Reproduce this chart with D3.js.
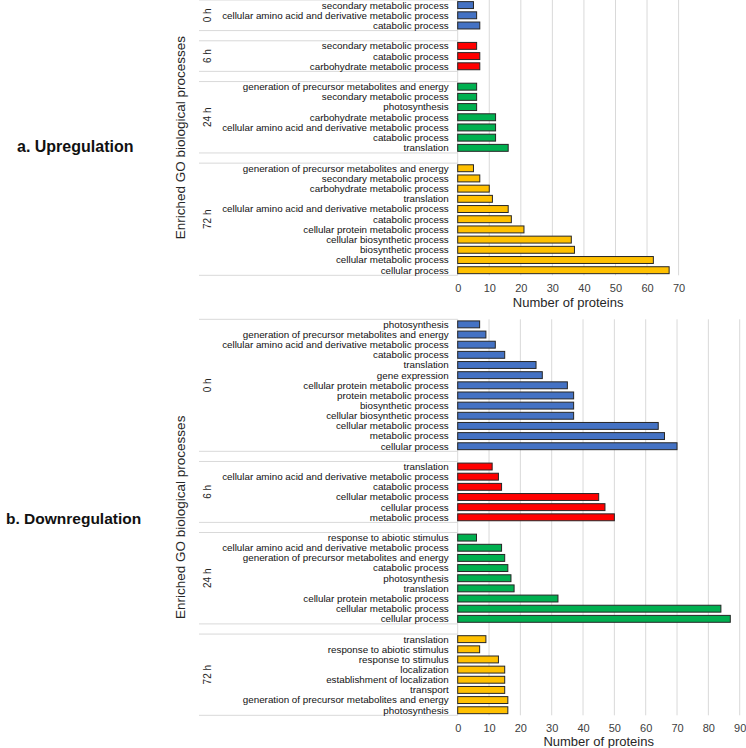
<!DOCTYPE html>
<html><head><meta charset="utf-8">
<script src="https://cdn.jsdelivr.net/npm/d3@7/dist/d3.min.js"></script>
<style>
body{margin:0;background:#fff;}
svg{display:block;font-family:"Liberation Sans",Arial,sans-serif;}
</style></head>
<body><svg id="c" width="746" height="748"></svg>
<script>
// ---------- DATA ----------
const groupNames = ["0 h", "6 h", "24 h", "72 h"];
const groupColors = ["#4472C4", "#FF0000", "#00B050", "#FFC000"];

// a. Upregulation
const up0hCats = ["secondary metabolic process", "cellular amino acid and derivative metabolic process", "catabolic process"];
const up0hVals = [5, 6, 7];
const up6hCats = ["secondary metabolic process", "catabolic process", "carbohydrate metabolic process"];
const up6hVals = [6, 7, 7];
const up24hCats = ["generation of precursor metabolites and energy", "secondary metabolic process", "photosynthesis", "carbohydrate metabolic process", "cellular amino acid and derivative metabolic process", "catabolic process", "translation"];
const up24hVals = [6, 6, 6, 12, 12, 12, 16];
const up72hCats = ["generation of precursor metabolites and energy", "secondary metabolic process", "carbohydrate metabolic process", "translation", "cellular amino acid and derivative metabolic process", "catabolic process", "cellular protein metabolic process", "cellular biosynthetic process", "biosynthetic process", "cellular metabolic process", "cellular process"];
const up72hVals = [5, 7, 10, 11, 16, 17, 21, 36, 37, 62, 67];
const upTicks = [0, 10, 20, 30, 40, 50, 60, 70];

// b. Downregulation
const down0hCats = ["photosynthesis", "generation of precursor metabolites and energy", "cellular amino acid and derivative metabolic process", "catabolic process", "translation", "gene expression", "cellular protein metabolic process", "protein metabolic process", "biosynthetic process", "cellular biosynthetic process", "cellular metabolic process", "metabolic process", "cellular process"];
const down0hVals = [7, 9, 12, 15, 25, 27, 35, 37, 37, 37, 64, 66, 70];
const down6hCats = ["translation", "cellular amino acid and derivative metabolic process", "catabolic process", "cellular metabolic process", "cellular process", "metabolic process"];
const down6hVals = [11, 13, 14, 45, 47, 50];
const down24hCats = ["response to abiotic stimulus", "cellular amino acid and derivative metabolic process", "generation of precursor metabolites and energy", "catabolic process", "photosynthesis", "translation", "cellular protein metabolic process", "cellular metabolic process", "cellular process"];
const down24hVals = [6, 14, 15, 16, 17, 18, 32, 84, 87];
const down72hCats = ["translation", "response to abiotic stimulus", "response to stimulus", "localization", "establishment of localization", "transport", "generation of precursor metabolites and energy", "photosynthesis"];
const down72hVals = [9, 7, 13, 15, 15, 15, 16, 16];
const downTicks = [0, 10, 20, 30, 40, 50, 60, 70, 80, 90];

const panelTitles = ["a. Upregulation", "b. Downregulation"];
const yTitle = "Enriched GO biological processes";
const xTitle = "Number of proteins";

// ---------- DRAW ----------
const svg = d3.select("#c");
const GRID = "#d9d9d9";

function buildRows(cats, vals) {
  const rows = [];
  const groups = [];
  cats.forEach((cs, gi) => {
    if (gi > 0) rows.push({id: "gap" + gi, gap: true});
    const start = rows.length;
    cs.forEach((c, i) => rows.push({id: gi + "_" + i, cat: c, val: vals[gi][i], g: gi}));
    groups.push({g: gi, first: rows[start].id, last: rows[rows.length - 1].id});
  });
  return {rows, groups};
}

function drawPanel(cfg) {
  const {rows, groups} = buildRows(cfg.cats, cfg.vals);
  const x = d3.scaleLinear().domain([0, cfg.max]).range([cfg.x0, cfg.x1]);
  const y = d3.scaleBand().domain(rows.map(r => r.id)).range([cfg.y0, cfg.y1])
    .paddingInner(0.32).paddingOuter(0.16);
  const step = y.step();
  const g = svg.append("g");

  // vertical gridlines
  g.selectAll(".grid").data(cfg.ticks.slice(1)).join("line")
    .attr("x1", d => x(d)).attr("x2", d => x(d))
    .attr("y1", cfg.y0).attr("y2", cfg.y1)
    .attr("stroke", GRID).attr("stroke-width", 1);

  // category axis line
  g.append("line").attr("x1", x(0)).attr("x2", x(0))
    .attr("y1", cfg.y0).attr("y2", cfg.y1)
    .attr("stroke", GRID).attr("stroke-width", 1);

  // group separator lines + group labels
  groups.forEach(gr => {
    const top = y(gr.first) - step * 0.16;
    const bot = y(gr.last) + y.bandwidth() + step * 0.16;
    [top, bot].forEach(yy => {
      g.append("line").attr("x1", cfg.sepX).attr("x2", x(0))
        .attr("y1", yy).attr("y2", yy)
        .attr("stroke", GRID).attr("stroke-width", 1);
    });
    g.append("text")
      .attr("transform", `translate(${cfg.groupX},${(top + bot) / 2}) rotate(-90)`)
      .attr("text-anchor", "middle").attr("dy", "0.35em")
      .attr("font-size", 10).attr("fill", "#262626")
      .text(groupNames[gr.g]);
  });

  const data = rows.filter(r => !r.gap);
  // bars
  g.selectAll(".bar").data(data).join("rect")
    .attr("x", x(0)).attr("y", d => y(d.id))
    .attr("width", d => x(d.val) - x(0)).attr("height", y.bandwidth())
    .attr("fill", d => groupColors[d.g])
    .attr("stroke", "#262626").attr("stroke-width", 1);

  // category labels
  g.selectAll(".lab").data(data).join("text")
    .attr("x", x(0) - 9).attr("y", d => y(d.id) + y.bandwidth() / 2)
    .attr("dy", "0.35em").attr("text-anchor", "end")
    .attr("font-size", 9.8).attr("fill", "#111")
    .text(d => d.cat);

  // x axis ticks
  const ax = d3.axisBottom(x).tickValues(cfg.ticks).tickSize(0).tickPadding(0);
  const axg = g.append("g").attr("transform", `translate(0,${cfg.y1})`).call(ax);
  axg.select(".domain").remove();
  axg.selectAll("text").attr("font-size", 11).attr("fill", "#404040")
    .attr("font-family", "Liberation Sans, Arial, sans-serif")
    .attr("y", cfg.tickY - cfg.y1).attr("dy", "0.35em");

  // x title
  g.append("text").attr("x", (x(0) + x(cfg.ticks[cfg.ticks.length - 1])) / 2)
    .attr("y", cfg.xTitleY).attr("dy", "0.35em").attr("text-anchor", "middle")
    .attr("font-size", 13).attr("fill", "#262626").text(xTitle);

  // y title
  g.append("text")
    .attr("transform", `translate(${cfg.yTitleX},${(cfg.y0 + cfg.y1) / 2}) rotate(-90)`)
    .attr("text-anchor", "middle").attr("dy", "0.35em")
    .attr("font-size", 13.5).attr("fill", "#262626").text(yTitle);

  // panel title
  g.append("text").attr("x", cfg.titleX).attr("y", cfg.titleY).attr("dy", "0.35em")
    .attr("font-size", cfg.titleSize).attr("font-weight", "bold").attr("fill", "#111")
    .text(cfg.title);
}

drawPanel({
  cats: [up0hCats, up6hCats, up24hCats, up72hCats],
  vals: [up0hVals, up6hVals, up24hVals, up72hVals],
  max: 70, ticks: upTicks,
  x0: 457.7, x1: 678.6, y0: 0, y1: 275.3,
  sepX: 199, groupX: 207, tickY: 288, xTitleY: 302.5,
  yTitleX: 180, title: panelTitles[0], titleX: 17, titleY: 146, titleSize: 16
});

drawPanel({
  cats: [down0hCats, down6hCats, down24hCats, down72hCats],
  vals: [down0hVals, down6hVals, down24hVals, down72hVals],
  max: 90, ticks: downTicks,
  x0: 457.7, x1: 739.7, y0: 319.3, y1: 715.3,
  sepX: 199, groupX: 207, tickY: 728.3, xTitleY: 741.5,
  yTitleX: 180, title: panelTitles[1], titleX: 6, titleY: 519, titleSize: 15.5
});
</script>
</body></html>
